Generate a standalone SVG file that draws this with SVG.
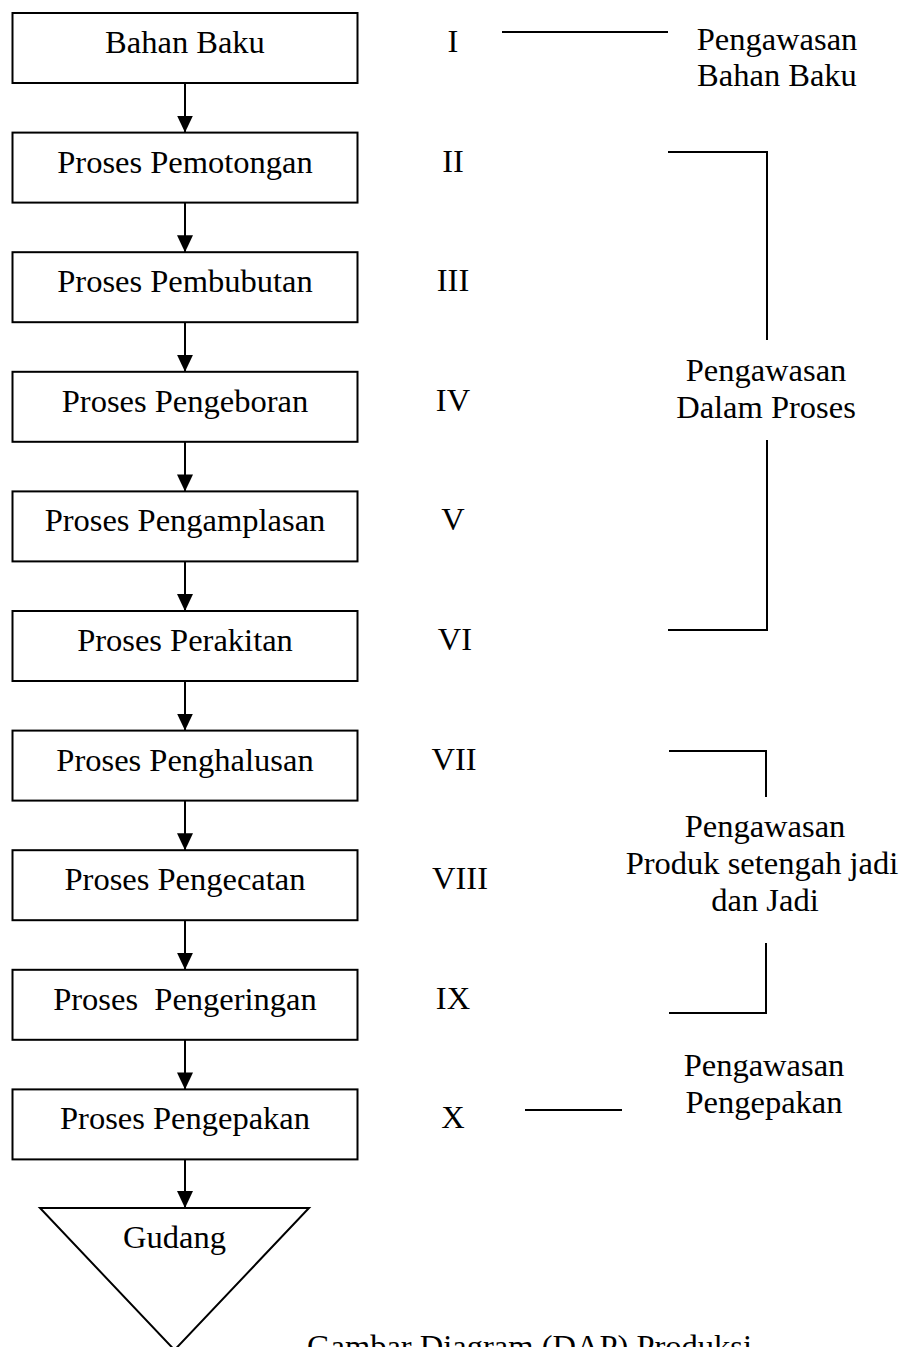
<svg xmlns="http://www.w3.org/2000/svg" width="906" height="1347" viewBox="0 0 906 1347">
<style>
text{font-family:"Liberation Serif","Times New Roman",serif;font-size:32.5px;fill:#000;white-space:pre}
.c{text-anchor:middle}
.box{fill:#fff;stroke:#000;stroke-width:2}
.ln{fill:none;stroke:#000;stroke-width:2}
</style>
<defs>
<marker id="ah" markerUnits="userSpaceOnUse" markerWidth="16" markerHeight="18" refX="8" refY="17" orient="auto-start-reverse" viewBox="0 0 16 18">
<path d="M0,0 L16,0 L8,17 Z" fill="#000" transform="rotate(-90 8 9)"/>
</marker>
<marker id="arr" markerUnits="userSpaceOnUse" markerWidth="18" markerHeight="16" refX="17" refY="8" orient="auto" viewBox="0 0 18 16">
<path d="M0,0 L17,8 L0,16 Z" fill="#000"/>
</marker>
</defs>
<g id="connectors">
<line class="ln" x1="185" y1="83" x2="185" y2="132.6" marker-end="url(#arr)"/>
<line class="ln" x1="185" y1="202.6" x2="185" y2="252.2" marker-end="url(#arr)"/>
<line class="ln" x1="185" y1="322.2" x2="185" y2="371.8" marker-end="url(#arr)"/>
<line class="ln" x1="185" y1="441.8" x2="185" y2="491.4" marker-end="url(#arr)"/>
<line class="ln" x1="185" y1="561.4" x2="185" y2="611" marker-end="url(#arr)"/>
<line class="ln" x1="185" y1="681" x2="185" y2="730.6" marker-end="url(#arr)"/>
<line class="ln" x1="185" y1="800.6" x2="185" y2="850.2" marker-end="url(#arr)"/>
<line class="ln" x1="185" y1="920.2" x2="185" y2="969.8" marker-end="url(#arr)"/>
<line class="ln" x1="185" y1="1039.8" x2="185" y2="1089.4" marker-end="url(#arr)"/>
<line class="ln" x1="185" y1="1159.4" x2="185" y2="1208" marker-end="url(#arr)"/>
<line class="ln" x1="502" y1="32" x2="668" y2="32"/>
<path class="ln" d="M668,152 H767 V340 M767,440 V630 H668"/>
<path class="ln" d="M669,751 H766 V797 M766,943 V1013 H669"/>
<line class="ln" x1="525" y1="1110" x2="622" y2="1110"/>
</g>
<g id="n1"><rect class="box" x="12.5" y="13" width="345" height="70"/><text class="c" x="185" y="53">Bahan Baku</text></g>
<g id="n2"><rect class="box" x="12.5" y="132.6" width="345" height="70"/><text class="c" x="185" y="172.6">Proses Pemotongan</text></g>
<g id="n3"><rect class="box" x="12.5" y="252.2" width="345" height="70"/><text class="c" x="185" y="292.2">Proses Pembubutan</text></g>
<g id="n4"><rect class="box" x="12.5" y="371.8" width="345" height="70"/><text class="c" x="185" y="411.8">Proses Pengeboran</text></g>
<g id="n5"><rect class="box" x="12.5" y="491.4" width="345" height="70"/><text class="c" x="185" y="531.4">Proses Pengamplasan</text></g>
<g id="n6"><rect class="box" x="12.5" y="611" width="345" height="70"/><text class="c" x="185" y="651">Proses Perakitan</text></g>
<g id="n7"><rect class="box" x="12.5" y="730.6" width="345" height="70"/><text class="c" x="185" y="770.6">Proses Penghalusan</text></g>
<g id="n8"><rect class="box" x="12.5" y="850.2" width="345" height="70"/><text class="c" x="185" y="890.2">Proses Pengecatan</text></g>
<g id="n9"><rect class="box" x="12.5" y="969.8" width="345" height="70"/><text class="c" x="185" y="1009.8">Proses  Pengeringan</text></g>
<g id="n10"><rect class="box" x="12.5" y="1089.4" width="345" height="70"/><text class="c" x="185" y="1129.4">Proses Pengepakan</text></g>
<g id="gudang"><path class="box" d="M40,1208 L309,1208 L174.5,1350 Z"/><text class="c" x="174.5" y="1248">Gudang</text></g>
<g id="numerals">
<text class="c" x="453" y="52">I</text>
<text class="c" x="453" y="171.6">II</text>
<text class="c" x="453" y="291.2">III</text>
<text class="c" x="453" y="410.8">IV</text>
<text class="c" x="453" y="530.4">V</text>
<text class="c" x="455" y="650">VI</text>
<text class="c" x="454" y="769.6">VII</text>
<text class="c" x="460" y="889.2">VIII</text>
<text class="c" x="453" y="1008.8">IX</text>
<text class="c" x="453" y="1128.4">X</text>
</g>
<g id="label-bahan"><text class="c" x="777" y="50">Pengawasan</text><text class="c" x="777" y="86">Bahan Baku</text></g>
<g id="label-proses"><text class="c" x="766" y="381">Pengawasan</text><text class="c" x="766" y="418">Dalam Proses</text></g>
<g id="label-produk"><text class="c" x="765" y="837">Pengawasan</text><text class="c" x="762" y="874">Produk setengah jadi</text><text class="c" x="765" y="911">dan Jadi</text></g>
<g id="label-kemas"><text class="c" x="764" y="1076">Pengawasan</text><text class="c" x="764" y="1113">Pengepakan</text></g>
<text x="307" y="1357">Gambar Diagram (DAP) Produksi</text>
</svg>
